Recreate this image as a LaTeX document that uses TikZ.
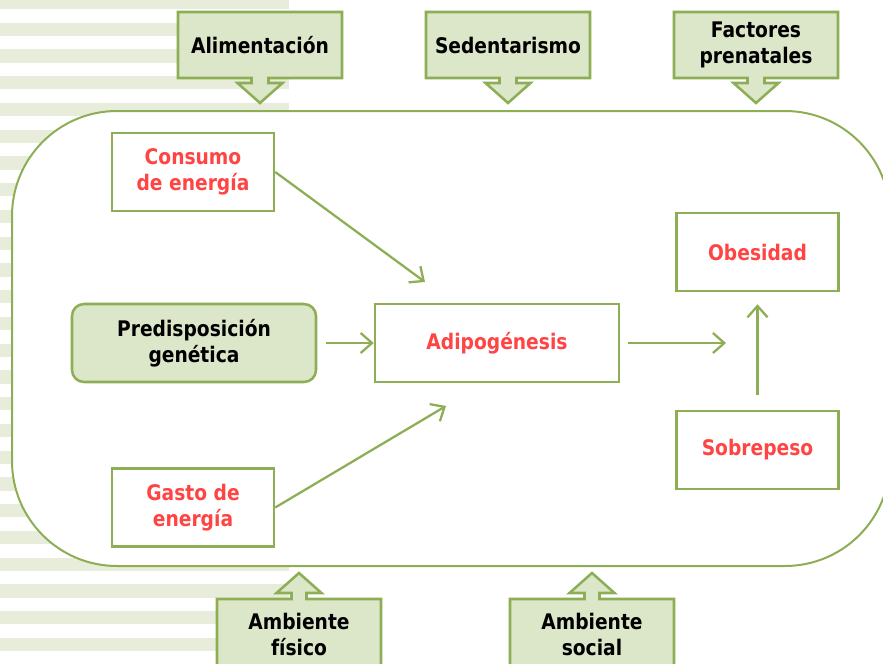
\documentclass[tikz,border=0pt]{standalone}
\usepackage{fontspec}
\setmainfont{DejaVu Sans}[FakeStretch=0.87]
\usetikzlibrary{arrows.meta,positioning,calc}
\definecolor{Olive}{HTML}{8DAE55}
\definecolor{OliveLight}{HTML}{DCE6C8}
\definecolor{Stripe}{HTML}{E8ECDB}
\definecolor{Coral}{HTML}{FF4444}
\newcommand{\boxfont}{\fontsize{16.1pt}{19.5pt}\selectfont}
\tikzset{
  redbox/.style={draw=Olive, line width=1.9pt, fill=white, minimum width=121.5pt,
    minimum height=58.5pt, align=center, text=Coral, font=\bfseries\boxfont},
  genebox/.style={draw=Olive, line width=1.9pt, fill=OliveLight, rounded corners=9pt,
    minimum width=183pt, minimum height=58.5pt, align=center, font=\bfseries\boxfont},
  calloutline/.style={draw=Olive, line width=1.9pt, fill=OliveLight},
  callouttext/.style={align=center, font=\bfseries\boxfont},
  frame/.style={draw=Olive, line width=1.5pt, fill=white, rounded corners=78.75pt},
  flowarr/.style={-{Straight Barb[length=8.5pt,width=15pt]}, line width=1.7pt, color=Olive},
}
% callout box with arrow pointing down / up
\newcommand{\calloutdown}[3]{%
  \draw[calloutline] ($(#2)+(-82,-33)$) -- ++(164,0) -- ++(0,66) -- ++(-73.5,0)
    -- ++(0,5) -- ++(14,0) -- ++(-22.5,20) -- ++(-22.5,-20) -- ++(14,0) -- ++(0,-5)
    -- ++(-73.5,0) -- cycle;
  \node[callouttext] (#1) at (#2) {#3};}
\newcommand{\calloutup}[3]{%
  \draw[calloutline] ($(#2)+(-82,35)$) -- ++(164,0) -- ++(0,-70) -- ++(-74.5,0)
    -- ++(0,-6) -- ++(15,0) -- ++(-22.5,-20) -- ++(-22.5,20) -- ++(15,0) -- ++(0,6)
    -- ++(-74.5,0) -- cycle;
  \node[callouttext] (#1) at (#2) {#3};}

\begin{document}
\begin{tikzpicture}[x=0.75pt, y=-0.75pt]
  \useasboundingbox (0,0) rectangle (883,664);
  \clip (0,0) rectangle (883,664);
  % striped background
  \foreach \k in {0,...,24}
    \fill[Stripe] (0,{-4.2+26.75*\k}) rectangle (289,{9.2+26.75*\k});
  \draw[frame] (12,111) rectangle (890,566);

  % outer factors
  \calloutdown{alim}{260,45}{Alimentación}
  \calloutdown{sedent}{508,45}{Sedentarismo}
  \calloutdown{prenat}{756,45}{Factores\\prenatales}
  \calloutup{fisico}{299,634}{Ambiente\\físico}
  \calloutup{social}{592,634}{Ambiente\\social}

  % inner boxes
  \node[genebox] (predis) at (194,343) {Predisposición\\genética};
  \node[redbox, minimum width=183pt, right=42.35pt of predis] (adipo) {Adipogénesis};
  \node[redbox] (consumo) at (193,172) {Consumo\\de energía};
  \node[redbox] (gasto) at (193,507.5) {Gasto de\\energía};
  \node[redbox] (obes) at (757.5,252) {Obesidad};
  \node[redbox, below=88.1pt of obes] (sobre) {Sobrepeso};

  \coordinate (consumoend) at (425,282);
  \coordinate (gastoend) at (446,406);
  \coordinate (adipoend) at (726,343);
  \draw[flowarr] (consumo.east) -- (consumoend);
  \draw[flowarr] (gasto.east) -- (gastoend);
  \draw[flowarr, shorten <=6.75pt] (predis) -- (adipo);
  \draw[flowarr, shorten <=6pt] (adipo) -- (adipoend);
  \draw[flowarr, shorten <=11.25pt, shorten >=9pt] (sobre) -- (obes);
\end{tikzpicture}
\end{document}
